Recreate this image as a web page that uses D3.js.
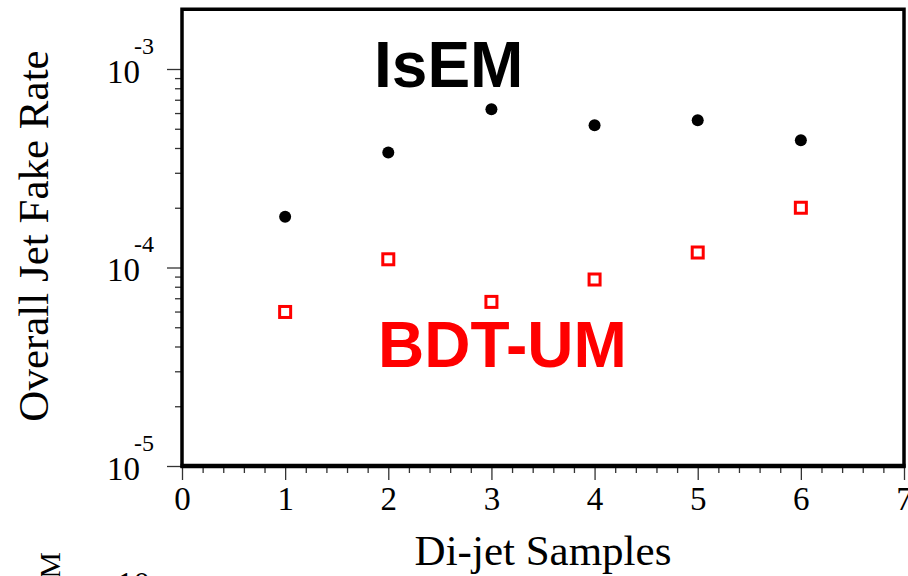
<!DOCTYPE html>
<html>
<head>
<meta charset="utf-8">
<script src="https://cdn.jsdelivr.net/npm/d3@7"></script>
<style>
  body { margin: 0; background: #fff; }
  svg { display: block; }
</style>
</head>
<body>
<div></div>
<script>
// di-jet sample numbers and fake rates
const samples = [1, 2, 3, 4, 5, 6]
const isemRate = [1.80e-4, 3.80e-4, 6.27e-4, 5.21e-4, 5.52e-4, 4.38e-4]
const bdtRate = [5.97e-5, 1.10e-4, 6.71e-5, 8.70e-5, 1.19e-4, 2.00e-4]
const xTicks = [0, 1, 2, 3, 4, 5, 6, 7]
const yDecades = [-5, -4, -3]

const width = 908
const height = 576
const padLeft = 182
const padRight = 904
const padTop = 9.25
const padBottom = 466

const svg = d3.select('div')
  .append('svg')
  .attr('width', width)
  .attr('height', height)

const x = d3.scaleLinear()
  .domain([0, 7])
  .range([padLeft, padRight])

const y = d3.scaleLog()
  .domain([1e-5, 2e-3])
  .range([padBottom, padTop])

const serif = '"Liberation Serif", "Times New Roman", serif'
const sans = '"Liberation Sans", Arial, sans-serif'

// x axis: majors at integers, minors every 0.2
const xMinor = d3.range(0, 35).map(i => i / 5).filter(v => v % 1 !== 0)
svg.append('g')
  .attr('transform', `translate(0, ${padBottom})`)
  .call(d3.axisBottom(x).tickValues(xMinor).tickSize(7).tickFormat(''))
  .call(g => g.select('.domain').remove())
  .call(g => g.selectAll('line').attr('stroke', '#333').attr('stroke-width', 1.3))

svg.append('g')
  .attr('transform', `translate(0, ${padBottom})`)
  .call(d3.axisBottom(x).tickValues(xTicks).tickSize(14).tickPadding(7).tickFormat(d3.format('d')))
  .call(g => g.select('.domain').remove())
  .call(g => g.selectAll('line').attr('stroke', '#333').attr('stroke-width', 1.3))
  .call(g => g.selectAll('text')
    .attr('font-family', serif)
    .attr('font-size', 33)
    .attr('fill', '#000'))

// y axis: log minors 2..9 per decade, majors at decades
const yMinor = []
yDecades.forEach(p => {
  for (let m = 2; m <= 9; m++) {
    const v = m * Math.pow(10, p)
    if (v < 1.5e-3) yMinor.push(v)
  }
})
svg.append('g')
  .attr('transform', `translate(${padLeft}, 0)`)
  .call(d3.axisLeft(y).tickValues(yMinor).tickSize(7).tickFormat(''))
  .call(g => g.select('.domain').remove())
  .call(g => g.selectAll('line').attr('stroke', '#333').attr('stroke-width', 1.3))

const yMajor = svg.append('g')
  .attr('transform', `translate(${padLeft}, 0)`)
  .call(d3.axisLeft(y).tickValues(yDecades.map(p => Math.pow(10, p))).tickSize(15).tickFormat(''))
  .call(g => g.select('.domain').remove())
  .call(g => g.selectAll('line').attr('stroke', '#333').attr('stroke-width', 1.3))

// "10" with exponent, like the original plotting package draws it
yMajor.selectAll('.tick')
  .append('text')
  .attr('x', -42)
  .attr('y', 13)
  .attr('text-anchor', 'end')
  .attr('font-family', serif)
  .attr('font-size', 33)
  .attr('fill', '#000')
  .text('10')

yMajor.selectAll('.tick')
  .append('text')
  .attr('x', -28)
  .attr('y', -16)
  .attr('font-family', serif)
  .attr('font-size', 24)
  .attr('fill', '#000')
  .text((d, i) => String(yDecades[i]))

// frame
svg.append('rect')
  .attr('x', padLeft)
  .attr('y', padTop)
  .attr('width', padRight - padLeft)
  .attr('height', padBottom - padTop)
  .attr('fill', 'none')
  .attr('stroke', '#000')
  .attr('stroke-width', 3.5)

svg.append('line')
  .attr('x1', padLeft - 1.5)
  .attr('x2', padRight + 1.5)
  .attr('y1', padBottom)
  .attr('y2', padBottom)
  .attr('stroke', '#000')
  .attr('stroke-width', 4.5)

// IsEM points
svg.append('g')
  .selectAll('circle')
  .data(samples)
  .join('circle')
  .attr('cx', d => x(d))
  .attr('cy', (d, i) => y(isemRate[i]))
  .attr('r', 6)
  .attr('fill', '#000')

// BDT-UM points
svg.append('g')
  .selectAll('rect')
  .data(samples)
  .join('rect')
  .attr('x', d => x(d) - 5.5)
  .attr('y', (d, i) => y(bdtRate[i]) - 5.5)
  .attr('width', 11)
  .attr('height', 11)
  .attr('fill', '#fff')
  .attr('stroke', '#ff0000')
  .attr('stroke-width', 3)

// labels inside the plot
svg.append('text')
  .text('IsEM')
  .attr('x', 374)
  .attr('y', 87)
  .attr('font-family', sans)
  .attr('font-weight', 'bold')
  .attr('font-size', 64)
  .attr('fill', '#000')

svg.append('text')
  .text('BDT-UM')
  .attr('x', 378)
  .attr('y', 367)
  .attr('font-family', sans)
  .attr('font-weight', 'bold')
  .attr('font-size', 64)
  .attr('fill', '#ff0000')

// axis titles
svg.append('text')
  .text('Di-jet Samples')
  .attr('x', (padLeft + padRight) / 2)
  .attr('y', 565)
  .attr('text-anchor', 'middle')
  .attr('font-family', serif)
  .attr('font-size', 43)
  .attr('fill', '#000')

svg.append('text')
  .text('Overall Jet Fake Rate')
  .attr('transform', 'translate(48, 236) rotate(-90)')
  .attr('text-anchor', 'middle')
  .attr('font-family', serif)
  .attr('font-size', 43)
  .attr('fill', '#000')

// pieces of the next panel peeking in at the bottom
svg.append('text')
  .text('M')
  .attr('transform', 'translate(60, 552) rotate(-90)')
  .attr('text-anchor', 'end')
  .attr('font-family', serif)
  .attr('font-size', 30)
  .attr('fill', '#000')

svg.append('text')
  .text('10')
  .attr('x', 150)
  .attr('y', 595)
  .attr('text-anchor', 'end')
  .attr('font-family', serif)
  .attr('font-size', 33)
  .attr('fill', '#000')
</script>
</body>
</html>
